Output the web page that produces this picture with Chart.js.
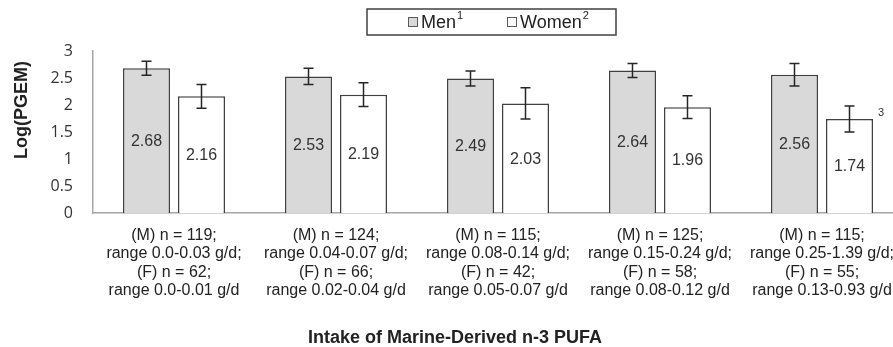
<!DOCTYPE html>
<html>
<head>
<meta charset="utf-8">
<title>Log(PGEM) by intake of marine-derived n-3 PUFA</title>
<script src="https://cdn.jsdelivr.net/npm/chart.js"></script>
<style>
  html, body { margin: 0; padding: 0; background: #fff; overflow: hidden; }
  #wrap { width: 893px; height: 347px; overflow: hidden; }
  #box { width: 910px; height: 347px; }
</style>
</head>
<body>
<div id="wrap"><div id="box"><canvas id="chart"></canvas></div></div>
<script>
// data
const categories = [
  ['(M) n = 119;', 'range 0.0-0.03 g/d;', '(F) n = 62;', 'range 0.0-0.01 g/d'],
  ['(M) n = 124;', 'range 0.04-0.07 g/d;', '(F) n = 66;', 'range 0.02-0.04 g/d'],
  ['(M) n = 115;', 'range 0.08-0.14 g/d;', '(F) n = 42;', 'range 0.05-0.07 g/d'],
  ['(M) n = 125;', 'range 0.15-0.24 g/d;', '(F) n = 58;', 'range 0.08-0.12 g/d'],
  ['(M) n = 115;', 'range 0.25-1.39 g/d;', '(F) n = 55;', 'range 0.13-0.93 g/d']
];
const seriesNames = ['Men', 'Women'];
const seriesNotes = ['1', '2'];
const menValues = [2.68, 2.53, 2.49, 2.64, 2.56];
const womenValues = [2.16, 2.19, 2.03, 1.96, 1.74];
const menErrors = [0.13, 0.15, 0.14, 0.13, 0.21];
const womenErrors = [0.22, 0.22, 0.29, 0.21, 0.24];
const yTicks = [0, 0.5, 1, 1.5, 2, 2.5, 3];
const lastBarNote = '3';
const yTitle = 'Log(PGEM)';
const xTitle = 'Intake of Marine-Derived n-3 PUFA';

const FONT = '"Liberation Sans", Arial, sans-serif';
const fills = ['#d9d9d9', '#ffffff'];

// error bars, value labels, legend and axis titles
const extras = {
  id: 'extras',
  afterDatasetsDraw(chart) {
    const ctx = chart.ctx, y = chart.scales.y;
    const errs = [menErrors, womenErrors];
    chart.data.datasets.forEach((ds, i) => {
      chart.getDatasetMeta(i).data.forEach((bar, j) => {
        const v = ds.data[j];
        ctx.save();
        ctx.fillStyle = '#333';
        ctx.font = '16px ' + FONT;
        ctx.textAlign = 'center';
        ctx.textBaseline = 'middle';
        ctx.fillText(v.toFixed(2), bar.x, (bar.y + bar.base) / 2 + 1);

        const top = y.getPixelForValue(v + errs[i][j]);
        const bot = y.getPixelForValue(v - errs[i][j]);
        ctx.strokeStyle = '#262626';
        ctx.lineWidth = 1.5;
        ctx.beginPath();
        ctx.moveTo(bar.x, top); ctx.lineTo(bar.x, bot);
        ctx.moveTo(bar.x - 5, top); ctx.lineTo(bar.x + 5, top);
        ctx.moveTo(bar.x - 5, bot); ctx.lineTo(bar.x + 5, bot);
        ctx.stroke();
        ctx.restore();
      });
    });

    // footnote next to the last women's bar
    const last = chart.getDatasetMeta(1).data[womenValues.length - 1];
    ctx.save();
    ctx.fillStyle = '#333';
    ctx.font = '11px ' + FONT;
    ctx.textAlign = 'left';
    ctx.textBaseline = 'middle';
    ctx.fillText(lastBarNote, last.x + last.width / 2 + 5, last.y - 6);
    ctx.restore();
  },
  afterDraw(chart) {
    const ctx = chart.ctx;
    ctx.save();
    // legend
    ctx.strokeStyle = '#404040';
    ctx.lineWidth = 1.5;
    ctx.strokeRect(367, 9, 249, 26);
    ctx.textBaseline = 'middle';
    let x = 408;
    seriesNames.forEach((name, i) => {
      ctx.fillStyle = fills[i];
      ctx.fillRect(x, 17, 10, 10);
      ctx.strokeStyle = '#595959';
      ctx.lineWidth = 1;
      ctx.strokeRect(x + 0.5, 17.5, 9, 9);
      ctx.fillStyle = '#222';
      ctx.font = '18px ' + FONT;
      ctx.textAlign = 'left';
      ctx.fillText(name, x + 13, 23);
      const w = ctx.measureText(name).width;
      ctx.font = '11px ' + FONT;
      ctx.fillText(seriesNotes[i], x + 14 + w, 16);
      x = 507;
    });

    // axis titles
    ctx.fillStyle = '#222';
    ctx.font = 'bold 18px ' + FONT;
    ctx.textAlign = 'center';
    ctx.textBaseline = 'alphabetic';
    ctx.fillText(xTitle, 455, 343);
    ctx.translate(27, 110);
    ctx.rotate(-Math.PI / 2);
    ctx.fillText(yTitle, 0, 0);
    ctx.restore();
  }
};

new Chart(document.getElementById('chart'), {
  type: 'bar',
  data: {
    labels: categories,
    datasets: [
      {
        label: seriesNames[0],
        data: menValues,
        backgroundColor: fills[0],
        borderColor: '#404040',
        borderWidth: 1.5,
        barPercentage: 0.855,
        categoryPercentage: 0.679
      },
      {
        label: seriesNames[1],
        data: womenValues,
        backgroundColor: fills[1],
        borderColor: '#404040',
        borderWidth: 1.5,
        barPercentage: 0.855,
        categoryPercentage: 0.679
      }
    ]
  },
  options: {
    responsive: true,
    maintainAspectRatio: false,
    animation: false,
    layout: { padding: { top: 51, left: 0, right: 7, bottom: 0 } },
    plugins: {
      legend: { display: false },
      tooltip: { enabled: false }
    },
    scales: {
      x: {
        grid: { display: false, drawTicks: false },
        border: { color: '#a6a6a6', width: 1.5 },
        ticks: {
          color: '#222',
          padding: 13,
          maxRotation: 0,
          autoSkip: false,
          font: { family: FONT, size: 16, lineHeight: 1.16 }
        },
        afterFit: s => { s.height = 134; }
      },
      y: {
        min: 0,
        max: 3,
        grid: { display: false, drawTicks: false },
        border: { color: '#a6a6a6', width: 1.5 },
        afterBuildTicks: s => { s.ticks = yTicks.map(v => ({ value: v })); },
        ticks: {
          color: '#333',
          padding: 20,
          font: { family: '"Open Sans", sans-serif', size: 16 },
          callback: v => String(v)
        },
        afterFit: s => { s.width = 93; }
      }
    }
  },
  plugins: [extras]
});
</script>
</body>
</html>
